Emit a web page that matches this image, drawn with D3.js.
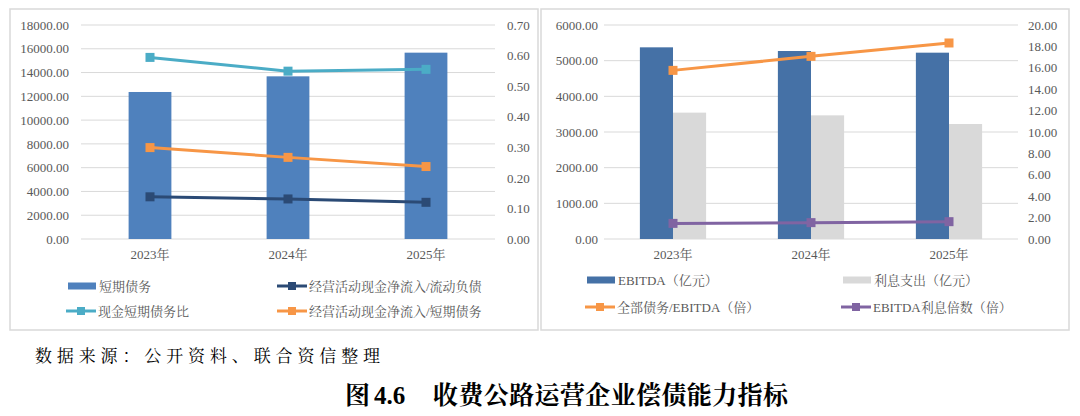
<!DOCTYPE html>
<html><head><meta charset="utf-8">
<script src="https://cdn.jsdelivr.net/npm/d3@7"></script>
<style>
body{margin:0;background:#fff;}
svg{display:block;}
.tk text{font-family:"Liberation Serif","Noto Serif CJK SC","Noto Sans CJK SC",serif;font-size:13px;fill:#595959;}
.lg{font-family:"Liberation Serif","Noto Serif CJK SC","Noto Sans CJK SC",serif;font-size:13px;fill:#595959;}
</style></head>
<body>
<script>
// ---------- data ----------
const years = ["2023年","2024年","2025年"];
// left panel
const shortDebt = [12365, 13682, 15673];           // 短期债务 (left axis)
const cfoCurLiab = [0.138, 0.131, 0.120];          // 经营活动现金净流入/流动负债
const cashShortDebt = [0.594, 0.549, 0.555];       // 现金短期债务比
const cfoShortDebt = [0.299, 0.267, 0.237];        // 经营活动现金净流入/短期债务
const leftTicksL = [0,2000,4000,6000,8000,10000,12000,14000,16000,18000];
const leftTicksR = [0,0.1,0.2,0.3,0.4,0.5,0.6,0.7];
// right panel
const ebitda = [5374, 5271, 5224];                 // EBITDA（亿元）
const interest = [3543, 3467, 3224];               // 利息支出（亿元）
const debtEbitda = [15.76, 17.07, 18.32];          // 全部债务/EBITDA（倍）
const ebitdaCover = [1.46, 1.53, 1.62];            // EBITDA利息倍数（倍）
const rightTicksL = [0,1000,2000,3000,4000,5000,6000];
const rightTicksR = [0,2,4,6,8,10,12,14,16,18,20];

const C = {bar1:"#4f81bd", navy:"#2b4a75", cyan:"#4bacc6", orange:"#f79646",
           bar2:"#4571a6", grey:"#d9d9d9", purple:"#8064a2", grid:"#d9d9d9"};

const svg = d3.select("body").append("svg").attr("width",1080).attr("height",416);

// panel borders
[[10,9],[541,9]].forEach(([x,y])=>{
  svg.append("rect").attr("x",x).attr("y",y).attr("width",528).attr("height",321)
    .attr("fill","none").attr("stroke","#d9d9d9").attr("stroke-width",1.5);
});

function axisStyle(g){
  g.select(".domain").remove();
  g.selectAll(".tick line").remove();
  g.attr("class","tk");
}

function drawLine(g, x, y, vals, color){
  const line = d3.line().x((d,i)=>x(years[i])+x.bandwidth()/2).y(d=>y(d));
  g.append("path").datum(vals).attr("d",line).attr("fill","none")
    .attr("stroke",color).attr("stroke-width",3);
  g.selectAll(null).data(vals).enter().append("rect")
    .attr("x",(d,i)=>x(years[i])+x.bandwidth()/2-4.5).attr("y",d=>y(d)-4.5)
    .attr("width",9).attr("height",9).attr("fill",color);
}

function legendBar(x,y,color,text){
  svg.append("rect").attr("x",x).attr("y",y-3.5).attr("width",28).attr("height",7).attr("fill",color);
  svg.append("text").attr("class","lg").attr("x",x+31).attr("y",y).attr("dy","0.35em").text(text);
}
function legendLine(x,y,color,text){
  svg.append("line").attr("x1",x).attr("x2",x+30).attr("y1",y).attr("y2",y).attr("stroke",color).attr("stroke-width",3);
  svg.append("rect").attr("x",x+11).attr("y",y-4).attr("width",8).attr("height",8).attr("fill",color);
  svg.append("text").attr("class","lg").attr("x",x+32).attr("y",y).attr("dy","0.35em").text(text);
}

// ---------- left panel ----------
{
  const x = d3.scaleBand().domain(years).range([81,495]).paddingInner(0.69).paddingOuter(0.345);
  const yL = d3.scaleLinear().domain([0,18000]).range([239,25]);
  const yR = d3.scaleLinear().domain([0,0.7]).range([239,25]);
  const g = svg.append("g");
  g.selectAll(null).data(leftTicksL).enter().append("line")
    .attr("x1",81).attr("x2",495).attr("y1",d=>yL(d)).attr("y2",d=>yL(d))
    .attr("stroke",C.grid).attr("stroke-width",1);
  g.append("g").attr("transform","translate(73,0)")
    .call(d3.axisLeft(yL).tickValues(leftTicksL).tickFormat(d3.format(".2f")).tickSize(0).tickPadding(4)).call(axisStyle);
  g.append("g").attr("transform","translate(503,0)")
    .call(d3.axisRight(yR).tickValues(leftTicksR).tickFormat(d3.format(".2f")).tickSize(0).tickPadding(4)).call(axisStyle);
  const xb = d3.scaleBand().domain(years).range([81,495]);
  g.append("g").attr("transform","translate(0,250)")
    .call(d3.axisBottom(xb).tickSize(0).tickPadding(0)).call(axisStyle)
    .selectAll("text").attr("dy","0.71em");
  g.selectAll(null).data(shortDebt).enter().append("rect")
    .attr("x",(d,i)=>x(years[i])).attr("width",x.bandwidth())
    .attr("y",d=>yL(d)).attr("height",d=>yL(0)-yL(d)).attr("fill",C.bar1);
  drawLine(g,x,yR,cashShortDebt,C.cyan);
  drawLine(g,x,yR,cfoShortDebt,C.orange);
  drawLine(g,x,yR,cfoCurLiab,C.navy);

  legendBar(68,286,C.bar1,"短期债务");
  legendLine(277,286,C.navy,"经营活动现金净流入/流动负债");
  legendLine(66,311,C.cyan,"现金短期债务比");
  legendLine(277,311,C.orange,"经营活动现金净流入/短期债务");
}

// ---------- right panel ----------
{
  const x = d3.scaleBand().domain(years).range([604,1018]).paddingInner(0.52).paddingOuter(0.26);
  const xs = d3.scaleBand().domain([0,1]).range([0,x.bandwidth()]);
  const yL = d3.scaleLinear().domain([0,6000]).range([239,25]);
  const yR = d3.scaleLinear().domain([0,20]).range([239,25]);
  const g = svg.append("g");
  g.selectAll(null).data(rightTicksL).enter().append("line")
    .attr("x1",604).attr("x2",1018).attr("y1",d=>yL(d)).attr("y2",d=>yL(d))
    .attr("stroke",C.grid).attr("stroke-width",1);
  g.append("g").attr("transform","translate(602,0)")
    .call(d3.axisLeft(yL).tickValues(rightTicksL).tickFormat(d3.format(".2f")).tickSize(0).tickPadding(4)).call(axisStyle);
  g.append("g").attr("transform","translate(1024,0)")
    .call(d3.axisRight(yR).tickValues(rightTicksR).tickFormat(d3.format(".2f")).tickSize(0).tickPadding(4)).call(axisStyle);
  const xb = d3.scaleBand().domain(years).range([604,1018]);
  g.append("g").attr("transform","translate(0,250)")
    .call(d3.axisBottom(xb).tickSize(0).tickPadding(0)).call(axisStyle)
    .selectAll("text").attr("dy","0.71em");
  g.selectAll(null).data(ebitda).enter().append("rect")
    .attr("x",(d,i)=>x(years[i])+xs(0)).attr("width",xs.bandwidth())
    .attr("y",d=>yL(d)).attr("height",d=>yL(0)-yL(d)).attr("fill",C.bar2);
  g.selectAll(null).data(interest).enter().append("rect")
    .attr("x",(d,i)=>x(years[i])+xs(1)).attr("width",xs.bandwidth())
    .attr("y",d=>yL(d)).attr("height",d=>yL(0)-yL(d)).attr("fill",C.grey);
  drawLine(g,x,yR,debtEbitda,C.orange);
  drawLine(g,x,yR,ebitdaCover,C.purple);

  legendBar(587,280,C.bar2,"EBITDA（亿元）");
  legendBar(843,280,C.grey,"利息支出（亿元）");
  legendLine(585,307,C.orange,"全部债务/EBITDA（倍）");
  legendLine(841,307,C.purple,"EBITDA利息倍数（倍）");
}

// ---------- captions ----------
svg.append("text").attr("x",35).attr("y",362)
  .attr("textLength",345).attr("lengthAdjust","spacing")
  .style("font-family","\"Noto Serif CJK SC\",\"Noto Sans CJK SC\",serif").style("font-size","17px")
  .attr("fill","#000").text("数据来源：公开资料、联合资信整理");
const titleFont = "\"Liberation Serif\",\"Noto Serif CJK SC\",\"Noto Sans CJK SC\",serif";
svg.append("text").attr("x",345).attr("y",404)
  .style("font-family",titleFont).style("font-size","25px").style("font-weight","bold")
  .attr("fill","#000").text("图");
svg.append("text").attr("x",374).attr("y",404)
  .style("font-family",titleFont).style("font-size","25px").style("font-weight","bold")
  .attr("fill","#000").text("4.6");
svg.append("text").attr("x",433).attr("y",404)
  .attr("textLength",355).attr("lengthAdjust","spacing")
  .style("font-family",titleFont).style("font-size","25px").style("font-weight","bold")
  .attr("fill","#000").text("收费公路运营企业偿债能力指标");
</script>
</body></html>
